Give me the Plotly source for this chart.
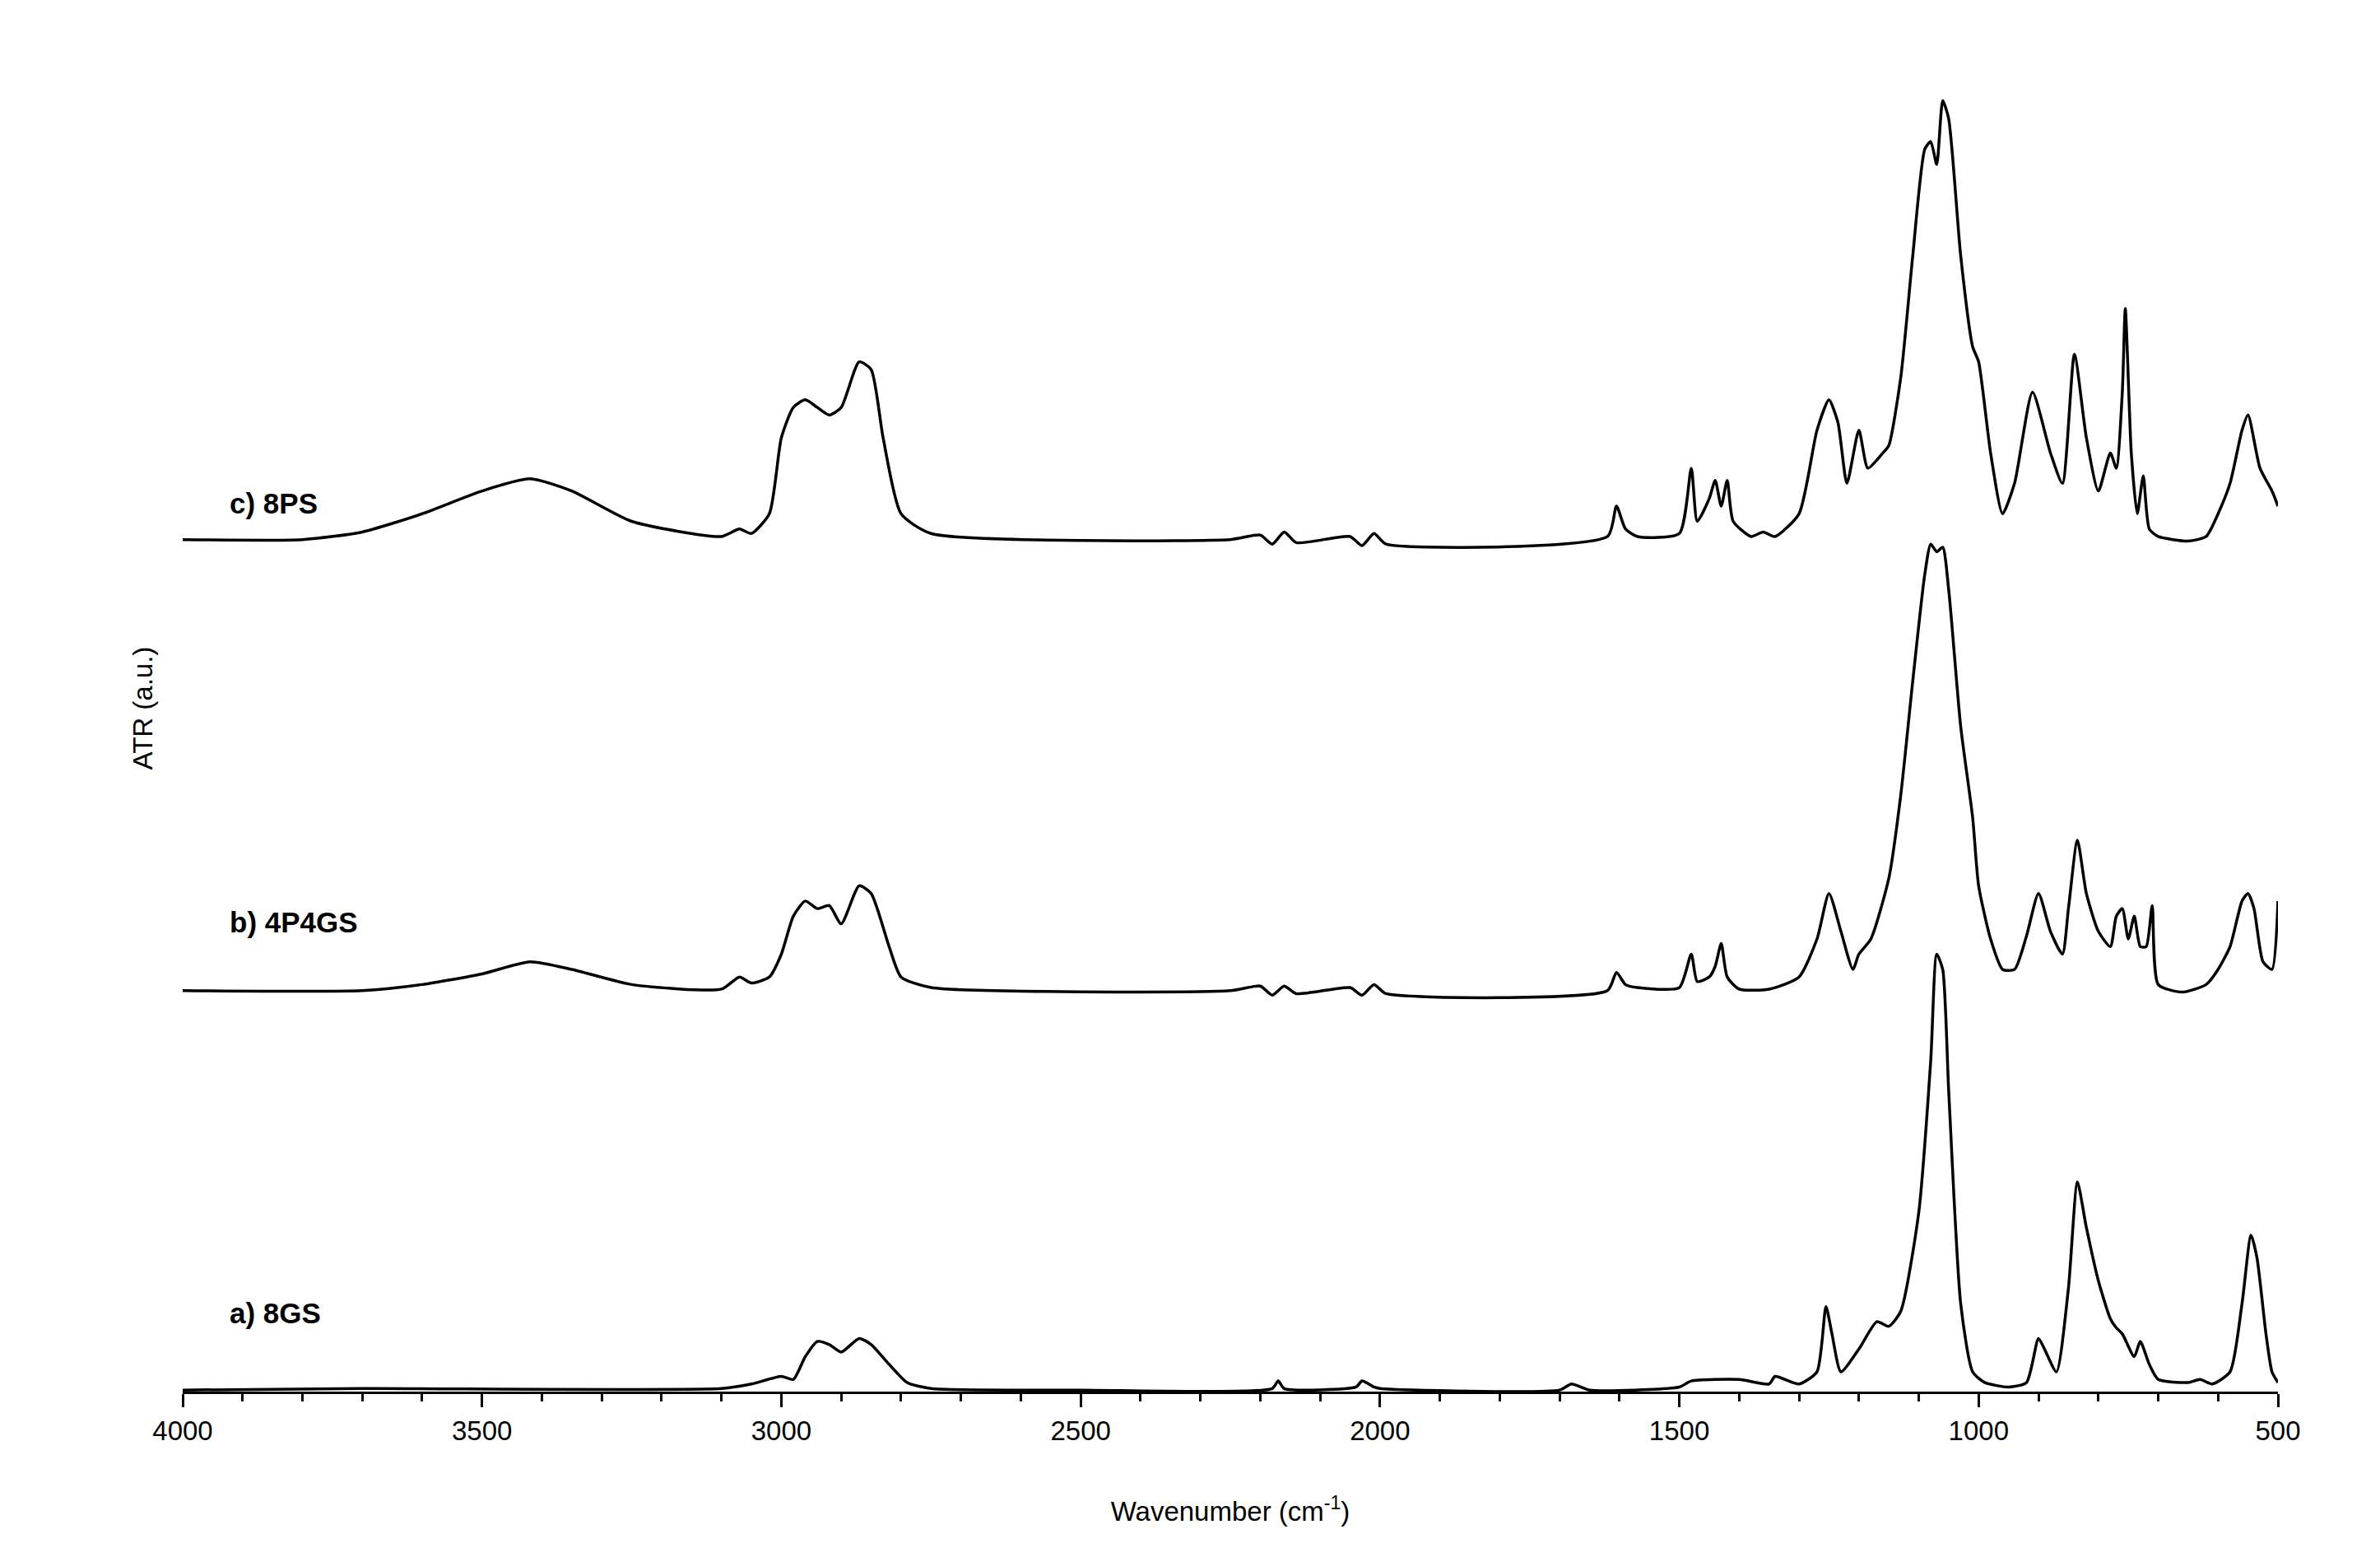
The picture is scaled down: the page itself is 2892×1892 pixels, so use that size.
import plotly.graph_objects as go

# wavenumber (cm-1) and intensity (arbitrary units)
wn_a = [4000, 3700, 3100, 3050, 3000, 2980, 2960, 2940, 2920, 2900, 2870, 2850, 2820, 2790, 2750,
        2500, 2180, 2170, 2160, 2040, 2030, 2010, 2000, 1700, 1680, 1650, 1500, 1480, 1400, 1350,
        1340, 1300, 1270, 1255, 1245, 1230, 1200, 1170, 1150, 1130, 1100, 1080, 1070, 1060, 1050,
        1030, 1010, 990, 950, 920, 900, 890, 870, 850, 835, 820, 800, 780, 770, 760, 740, 730,
        715, 700, 650, 630, 610, 580, 560, 545, 535, 520, 510, 500]
ia = [1, 2, 2, 5, 10, 8, 23, 33, 31, 26, 35, 31, 18, 6, 2,
      1, 2, 7, 2, 3, 7, 3, 2, 1, 5, 1, 3, 7, 8, 5,
      10, 5, 13, 56, 38, 13, 28, 46, 43, 53, 118, 218, 288, 278, 198,
      58, 13, 6, 3, 6, 35, 28, 13, 68, 138, 108, 73, 48, 42, 38, 23, 33,
      18, 8, 6, 8, 5, 13, 58, 103, 88, 38, 13, 6]

wn_b = [4000, 3700, 3600, 3500, 3420, 3350, 3250, 3100, 3070, 3050, 3020, 3000, 2980, 2960, 2940,
        2920, 2900, 2870, 2850, 2820, 2800, 2750, 2250, 2200, 2180, 2160, 2140, 2050, 2030, 2010,
        1990, 1620, 1605, 1590, 1570, 1500, 1480, 1470, 1450, 1440, 1430, 1420, 1400, 1350, 1300,
        1270, 1250, 1230, 1210, 1200, 1180, 1150, 1130, 1110, 1090, 1080, 1070, 1060, 1050, 1030,
        1010, 1000, 980, 960, 940, 920, 900, 880, 860, 850, 835, 820, 800, 780, 770, 760, 750,
        740, 730, 720, 710, 700, 660, 620, 600, 580, 560, 550, 540, 525, 510, 500]
ib = [264, 264, 268, 275, 283, 278, 268, 265, 273, 269, 273, 288, 313, 323, 318,
      320, 308, 333, 328, 293, 273, 266, 264, 267, 261, 267, 262, 266, 261, 268,
      262, 264, 276, 268, 266, 266, 288, 270, 273, 280, 295, 273, 265, 265, 273,
      298, 328, 303, 278, 288, 298, 338, 393, 468, 538, 558, 553, 556, 528, 438,
      378, 333, 298, 278, 278, 300, 328, 303, 288, 318, 363, 328, 303, 293, 313, 318, 298,
      313, 293, 293, 320, 268, 263, 268, 278, 293, 323, 328, 318, 283, 278, 323]

wn_c = [4000, 3800, 3700, 3600, 3500, 3420, 3350, 3250, 3100, 3070, 3050, 3020, 3000, 2980, 2960,
        2940, 2920, 2900, 2870, 2850, 2830, 2800, 2750, 2250, 2200, 2180, 2160, 2140, 2050, 2030,
        2010, 1990, 1620, 1605, 1590, 1570, 1500, 1480, 1470, 1450, 1440, 1430, 1420, 1410, 1380,
        1360, 1340, 1300, 1270, 1250, 1235, 1220, 1200, 1185, 1160, 1150, 1130, 1110, 1090, 1080,
        1070, 1060, 1050, 1030, 1010, 1000, 980, 960, 940, 910, 880, 860, 840, 820, 800, 780,
        770, 760, 755, 745, 735, 725, 715, 700, 650, 620, 600, 580, 560, 550, 530, 510, 500]
ic = [561, 561, 566, 578, 593, 601, 593, 573, 563, 568, 565, 578, 628, 648, 653,
      648, 643, 648, 678, 673, 628, 578, 565, 561, 564, 558, 566, 559, 563, 557,
      565, 558, 563, 583, 568, 563, 565, 608, 573, 588, 600, 583, 600, 573, 563,
      566, 563, 578, 633, 653, 638, 598, 633, 608, 618, 623, 668, 748, 818, 823,
      808, 850, 838, 748, 688, 678, 618, 578, 598, 658, 618, 598, 683, 628, 593, 618,
      608, 658, 713, 618, 578, 603, 568, 563, 560, 563, 578, 598, 633, 643, 608, 593, 583]

labels = ["a) 8GS", "b) 4P4GS", "c) 8PS"]
label_y = [52, 309, 585]

fig = go.Figure()
for wn, inten in [(wn_a, ia), (wn_b, ib), (wn_c, ic)]:
    fig.add_trace(go.Scatter(x=wn, y=inten, mode="lines",
                             line=dict(color="black", width=3.5, shape="spline", smoothing=0.6),
                             showlegend=False))

for txt, yv in zip(labels, label_y):
    fig.add_annotation(x=3925, y=yv, text=f"<b>{txt}</b>", showarrow=False,
                       xanchor="left", yanchor="middle",
                       font=dict(family="Liberation Sans", size=35, color="black"))

fig.update_layout(
    width=2892, height=1892,
    margin=dict(l=214, r=132, t=22, b=209),
    paper_bgcolor="white", plot_bgcolor="white",
    font=dict(family="Liberation Sans", size=33, color="black"),
    xaxis=dict(range=[4000, 500], tickvals=[4000, 3500, 3000, 2500, 2000, 1500, 1000, 500],
               showline=True, linecolor="black", linewidth=3, showgrid=False, zeroline=False,
               ticks="outside", ticklen=16, tickwidth=3, tickcolor="black",
               minor=dict(dtick=100, ticks="outside", ticklen=9, tickwidth=2.5, tickcolor="black"),
               title=dict(text="Wavenumber (cm<sup>-1</sup>)", standoff=70,
                          font=dict(size=33))),
    yaxis=dict(range=[0, 900], showticklabels=False, showgrid=False, zeroline=False,
               showline=False, ticks="",
               title=dict(text="ATR (a.u.)", standoff=25, font=dict(size=33))),
)

fig.write_html("out.html")
